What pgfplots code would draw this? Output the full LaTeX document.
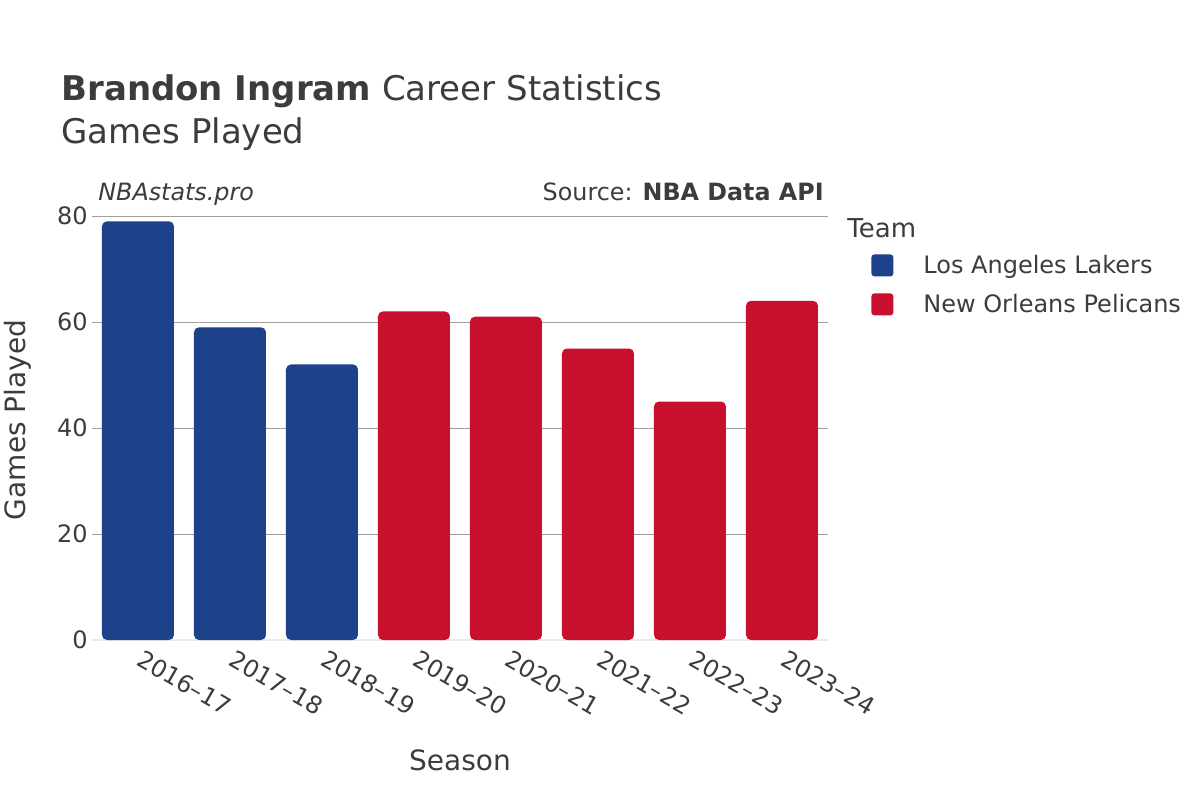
\documentclass[border=0pt]{standalone}
\usepackage{fontspec}
\setmainfont{DejaVu Sans}
\usepackage{pgfplots}
\pgfplotsset{compat=1.18}
\definecolor{lal}{HTML}{1D428A}
\definecolor{nop}{HTML}{C8102E}
\definecolor{txt}{HTML}{3C3C3C}
\definecolor{gridc}{HTML}{A0A0A0}
\definecolor{zeroc}{HTML}{EBEBEB}
\begin{document}
\begin{tikzpicture}
\path[use as bounding box] (0pt,0pt) rectangle (600pt,400pt);
\node[anchor=base west, text=txt, inner sep=0pt, font=\fontsize{17}{20}\selectfont] at (30.5pt,349.5pt) {\bfseries Brandon Ingram\mdseries\ Career Statistics};
\node[anchor=base west, text=txt, inner sep=0pt, font=\fontsize{17}{20}\selectfont] at (30.5pt,328pt) {Games Played};
\node[anchor=base west, text=txt, inner sep=0pt, font=\itshape\fontsize{11.9}{13}\selectfont] at (49pt,300pt) {NBAstats.pro};
\node[anchor=base east, text=txt, inner sep=0pt, font=\fontsize{11.9}{13}\selectfont] at (412pt,300pt) {Source: \textbf{NBA Data API}};
\node[anchor=base west, text=txt, inner sep=0pt, font=\fontsize{13}{15}\selectfont] at (423.5pt,281.5pt) {Team};
\begin{axis}[
  at={(46pt,80pt)}, anchor=south west,
  scale only axis, width=368pt, height=212pt,
  xmin=-0.5, xmax=7.5, ymin=0, ymax=80,
  ybar, bar width=36pt,
  axis line style={draw=none}, tick style={draw=none},
  xtick={0,...,7},
  xticklabels={2016–17,2017–18,2018–19,2019–20,2020–21,2021–22,2022–23,2023–24},
  ytick={20,40,60,80},
  extra y ticks={0},
  extra y tick style={grid style={color=zeroc, line width=1pt}},
  ymajorgrids, grid style={color=gridc, line width=0.5pt},
  /pgf/number format/assume math mode=true,
  ticklabel style={font=\fontsize{12}{14}\selectfont, text=txt},
  yticklabel style={inner sep=0pt, xshift=-2pt},
  xticklabel style={rotate=-30, anchor=north west, inner sep=0pt, xshift=2.5pt, yshift=1.5pt},
  xlabel={Season}, ylabel={Games Played},
  label style={font=\fontsize{14}{16}\selectfont, text=txt},
  xlabel style={at={(axis description cs:0.5,-0.283)}, anchor=center},
  ylabel style={at={(axis description cs:-0.1005,0.519)}, anchor=center, rotate=0},
  legend cell align=left,
  legend style={at={(axis description cs:1,1)}, anchor=north west, xshift=21.5pt, yshift=-19pt,
    draw=none, fill=none, inner sep=0pt, row sep=8.5pt,
    font=\fontsize{12}{14}\selectfont, text=txt, nodes={inner sep=0pt}},
  legend image code/.code={\fill[#1, draw=none, rounded corners=1.5pt] (0pt,-5.5pt) rectangle (11pt,5.5pt); \path[draw=none, fill=none] (0pt,0pt) rectangle (26pt,0.1pt);},
]
\addplot[fill=lal, draw=none, bar shift=0pt, rounded corners=2.5pt] coordinates {(0,79) (1,59) (2,52)};
\addlegendentry{Los Angeles Lakers}
\addplot[fill=nop, draw=none, bar shift=0pt, rounded corners=2.5pt] coordinates {(3,62) (4,61) (5,55) (6,45) (7,64)};
\addlegendentry{New Orleans Pelicans}
\end{axis}
\end{tikzpicture}
\end{document}
